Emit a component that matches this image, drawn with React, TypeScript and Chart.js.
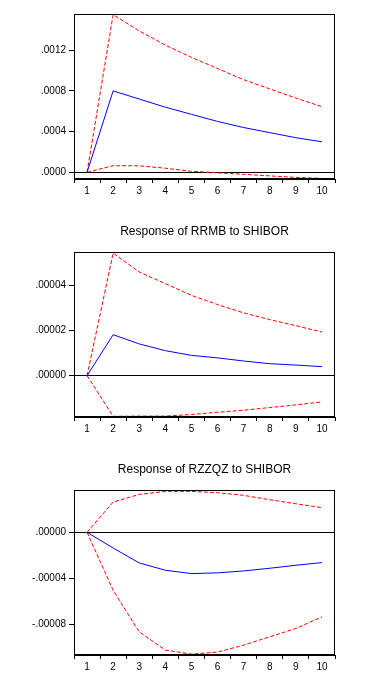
import React, { useEffect, useRef } from "react";
import { Chart, registerables } from "chart.js";

Chart.register(...registerables);

const periods = ["1", "2", "3", "4", "5", "6", "7", "8", "9", "10"];

// Panel 1 (untitled, top)
const p1Response = [0, 0.0008, 0.00072, 0.00064, 0.00057, 0.0005, 0.00044, 0.00039, 0.00034, 0.0003];
const p1Upper = [0, 0.00155, 0.00139, 0.00125, 0.00113, 0.00102, 0.00091, 0.00082, 0.00073, 0.000645];
const p1Lower = [0, 0.000065, 0.000064, 0.00004, 0.00001, -0.000005, -0.00002, -0.000035, -0.00005, -0.00006];
const p1Ticks = [0, 0.0004, 0.0008, 0.0012];

// Panel 2
const p2Title = "Response of RRMB to SHIBOR";
const p2Response = [0, 0.0000182, 0.0000141, 0.0000111, 0.000009, 0.0000079, 0.0000065, 0.0000053, 0.0000047, 0.000004];
const p2Upper = [0, 0.0000545, 0.0000461, 0.0000409, 0.0000357, 0.0000316, 0.0000279, 0.0000249, 0.0000222, 0.0000194];
const p2Lower = [0, -0.0000181, -0.000018, -0.000018, -0.0000173, -0.0000163, -0.0000154, -0.0000142, -0.000013, -0.0000117];
const p2Ticks = [0, 0.00002, 0.00004];

// Panel 3
const p3Title = "Response of RZZQZ to SHIBOR";
const p3Response = [0, -0.0000136, -0.0000266, -0.0000329, -0.0000358, -0.0000352, -0.0000335, -0.0000312, -0.0000286, -0.0000263];
const p3Upper = [0, 0.0000263, 0.0000329, 0.0000355, 0.0000355, 0.0000344, 0.0000321, 0.0000283, 0.0000248, 0.0000214];
const p3Lower = [0, -0.0000503, -0.0000864, -0.0001022, -0.0001057, -0.000104, -0.0000979, -0.0000907, -0.0000835, -0.0000734];
const p3Ticks = [-0.00008, -0.00004, 0];

const FONT = "'Liberation Sans', Arial, sans-serif";

const framePlugin = {
  id: "frame",
  afterDraw(chart: any) {
    const { ctx, chartArea } = chart;
    const l = Math.round(chartArea.left) + 0.5;
    const t = Math.round(chartArea.top) + 0.5;
    const r = Math.round(chartArea.right) - 0.5;
    const b = Math.round(chartArea.bottom) - 0.5;
    ctx.save();
    ctx.strokeStyle = "#000";
    ctx.lineWidth = 1;
    ctx.strokeRect(l, t, r - l, b - t);
    ctx.restore();
  },
};

function fmt(v: number, d: number) {
  const s = Math.abs(v).toFixed(d).replace(/^0/, "");
  return (v < -1e-12 ? "-" : "") + s;
}

type PanelProps = {
  top: number;
  height: number;
  title?: string;
  response: number[];
  upper: number[];
  lower: number[];
  ticks: number[];
  decimals: number;
  min: number;
  max: number;
  xAxisHeight: number;
};

function Panel(p: PanelProps) {
  const ref = useRef<HTMLCanvasElement | null>(null);
  useEffect(() => {
    if (!ref.current) return;
    const chart = new Chart(ref.current, {
      type: "line",
      data: {
        labels: periods,
        datasets: [
          { data: p.response, borderColor: "#0000ff", borderWidth: 1, pointRadius: 0, tension: 0, fill: false },
          { data: p.upper, borderColor: "#ff0000", borderWidth: 1, borderDash: [4, 2], pointRadius: 0, tension: 0, fill: false },
          { data: p.lower, borderColor: "#ff0000", borderWidth: 1, borderDash: [4, 2], pointRadius: 0, tension: 0, fill: false },
        ],
      },
      options: {
        animation: false,
        responsive: false,
        layout: { padding: { top: p.title ? 24 : 14, right: 50, left: 0, bottom: 0 } },
        plugins: {
          legend: { display: false },
          tooltip: { enabled: false },
          title: {
            display: !!p.title,
            text: p.title || "",
            color: "#000",
            font: { family: FONT, size: 12, weight: "normal" },
            padding: { top: 0, bottom: 14 },
            fullSize: false,
          },
        },
        scales: {
          x: {
            type: "category",
            offset: true,
            grid: { offset: true, drawOnChartArea: false, drawTicks: true, tickLength: 4, tickColor: "#000", color: "#000" },
            border: { display: true, color: "#000" },
            ticks: { color: "#000", font: { family: FONT, size: 10 }, padding: 2, maxRotation: 0, autoSkip: false },
            afterFit: (s: any) => { s.height = p.xAxisHeight; },
          },
          y: {
            type: "linear",
            min: p.min,
            max: p.max,
            afterBuildTicks: (s: any) => { s.ticks = p.ticks.map((v) => ({ value: v })); },
            grid: {
              color: (c: any) => (c.tick && Math.abs(c.tick.value) < 1e-12 ? "#000" : "rgba(0,0,0,0)"),
              tickColor: "#000",
              tickLength: 5,
              drawTicks: true,
            },
            border: { display: true, color: "#000" },
            ticks: { color: "#000", font: { family: FONT, size: 10 }, padding: 3, callback: (v: any) => fmt(Number(v), p.decimals) },
            afterFit: (s: any) => { s.width = 74; },
          },
        },
      } as any,
      plugins: [framePlugin],
    });
    return () => chart.destroy();
  }, []);
  return (
    <canvas
      ref={ref}
      width={385}
      height={p.height}
      style={{ position: "absolute", left: 0, top: p.top, width: 385, height: p.height, display: "block" }}
    />
  );
}

export default function App() {
  return (
    <div style={{ position: "absolute", left: 0, top: 0, width: 385, height: 675, background: "#fff", overflow: "hidden" }}>
      <Panel top={0} height={200} response={p1Response} upper={p1Upper} lower={p1Lower} ticks={p1Ticks} decimals={4} min={-0.0000658} max={0.001556} xAxisHeight={21} />
      <Panel top={200} height={238} title={p2Title} response={p2Response} upper={p2Upper} lower={p2Lower} ticks={p2Ticks} decimals={5} min={-0.0000184} max={0.0000548} xAxisHeight={21} />
      <Panel top={438} height={237} title={p3Title} response={p3Response} upper={p3Upper} lower={p3Lower} ticks={p3Ticks} decimals={5} min={-0.0001065} max={0.0000364} xAxisHeight={20} />
    </div>
  );
}
